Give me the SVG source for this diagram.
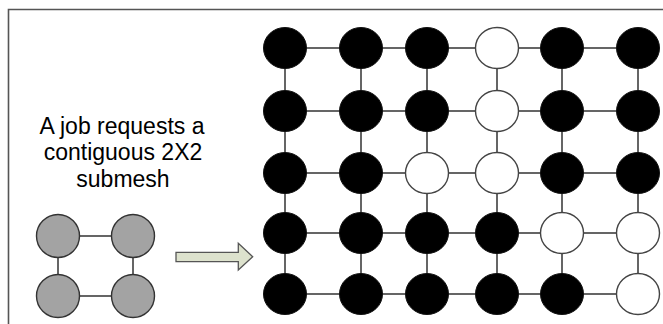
<svg xmlns="http://www.w3.org/2000/svg" width="663" height="324" viewBox="0 0 663 324">
  <style>
    .frame { stroke: #555; stroke-width: 1.6; fill: none; }
    .edge { stroke: #333; stroke-width: 1.5; fill: none; }
    .busy { fill: #000; stroke: #111; stroke-width: 1; }
    .free { fill: #fff; stroke: #444; stroke-width: 1.4; }
    .req { fill: #a3a3a3; stroke: #333; stroke-width: 1.4; }
    .label { font-family: "Liberation Sans", Arial, sans-serif; font-size: 23px; fill: #000; text-anchor: middle; }
    .arrow { fill: #dde2cd; stroke: #555; stroke-width: 1.3; }
  </style>
  <defs>
    <ellipse id="n" rx="21.5" ry="20.5"/>
  </defs>
  <rect width="663" height="324" fill="#fff"/>
  <!-- frame -->
  <path class="frame" d="M8.5 324 V9.5 H663"/>

  <!-- caption -->
  <g id="caption">
    <text class="label" x="122" y="134">A job requests a</text>
    <text class="label" x="123" y="160">contiguous 2X2</text>
    <text class="label" x="123" y="186.5">submesh</text>
  </g>

  <!-- requested 2x2 submesh: links -->
  <g id="request-links">
    <path class="edge" d="M58 236 H133 M58 296 H133 M58 236 V296 M133 236 V296"/>
  </g>
  <g id="request-nodes">
    <g id="r11"><circle class="req" cx="58" cy="236" r="21.5"/></g>
    <g id="r12"><circle class="req" cx="133" cy="236" r="21.5"/></g>
    <g id="r21"><circle class="req" cx="58" cy="296" r="21.5"/></g>
    <g id="r22"><circle class="req" cx="133" cy="296" r="21.5"/></g>
  </g>

  <!-- block arrow -->
  <g id="arrow">
    <polygon class="arrow" points="176,252.3 238.3,252.3 238.3,243.3 252.7,256.7 238.3,270 238.3,261.7 176,261.7"/>
  </g>

  <!-- 6x5 mesh links -->
  <g id="mesh-links" class="edge">
    <path d="M285 48 H638 M285 111 H638 M285 173 H638 M285 233 H638 M285 294 H638"/>
    <path d="M285 48 V294 M361 48 V294 M427 48 V294 M497 48 V294 M562 48 V294 M638 48 V294"/>
  </g>

  <!-- mesh nodes: black = allocated, white = free -->
  <g id="mesh-nodes">
    <g id="m1-1"><use href="#n" class="busy" x="285" y="48"/></g>
    <g id="m1-2"><use href="#n" class="busy" x="361" y="48"/></g>
    <g id="m1-3"><use href="#n" class="busy" x="427" y="48"/></g>
    <g id="m1-4"><use href="#n" class="free" x="497" y="48"/></g>
    <g id="m1-5"><use href="#n" class="busy" x="562" y="48"/></g>
    <g id="m1-6"><use href="#n" class="busy" x="638" y="48"/></g>

    <g id="m2-1"><use href="#n" class="busy" x="285" y="111"/></g>
    <g id="m2-2"><use href="#n" class="busy" x="361" y="111"/></g>
    <g id="m2-3"><use href="#n" class="busy" x="427" y="111"/></g>
    <g id="m2-4"><use href="#n" class="free" x="497" y="111"/></g>
    <g id="m2-5"><use href="#n" class="busy" x="562" y="111"/></g>
    <g id="m2-6"><use href="#n" class="busy" x="638" y="111"/></g>

    <g id="m3-1"><use href="#n" class="busy" x="285" y="173"/></g>
    <g id="m3-2"><use href="#n" class="busy" x="361" y="173"/></g>
    <g id="m3-3"><use href="#n" class="free" x="427" y="173"/></g>
    <g id="m3-4"><use href="#n" class="free" x="497" y="173"/></g>
    <g id="m3-5"><use href="#n" class="busy" x="562" y="173"/></g>
    <g id="m3-6"><use href="#n" class="busy" x="638" y="173"/></g>

    <g id="m4-1"><use href="#n" class="busy" x="285" y="233"/></g>
    <g id="m4-2"><use href="#n" class="busy" x="361" y="233"/></g>
    <g id="m4-3"><use href="#n" class="busy" x="427" y="233"/></g>
    <g id="m4-4"><use href="#n" class="busy" x="497" y="233"/></g>
    <g id="m4-5"><use href="#n" class="free" x="562" y="233"/></g>
    <g id="m4-6"><use href="#n" class="free" x="638" y="233"/></g>

    <g id="m5-1"><use href="#n" class="busy" x="285" y="294"/></g>
    <g id="m5-2"><use href="#n" class="busy" x="361" y="294"/></g>
    <g id="m5-3"><use href="#n" class="busy" x="427" y="294"/></g>
    <g id="m5-4"><use href="#n" class="busy" x="497" y="294"/></g>
    <g id="m5-5"><use href="#n" class="busy" x="562" y="294"/></g>
    <g id="m5-6"><use href="#n" class="free" x="638" y="294"/></g>
  </g>
</svg>
